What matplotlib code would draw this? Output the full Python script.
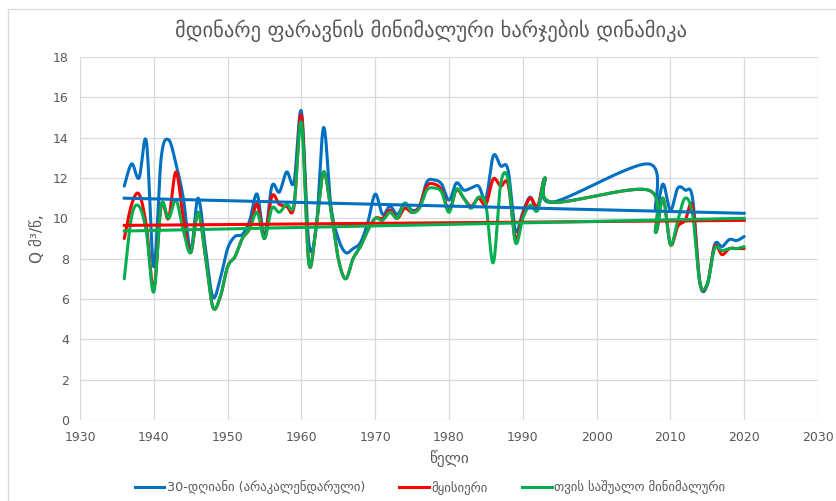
import numpy as np
import matplotlib
matplotlib.use("Agg")
import matplotlib.pyplot as plt
from matplotlib.lines import Line2D

plt.rcParams['font.family'] = ['DejaVu Sans']

# years with data (gap 1995-2006)
years = list(range(1936, 1995)) + list(range(2007, 2021))

# 30-day (non-calendar) minimum
q30 = [11.6, 12.7, 12.0, 13.8, 7.6, 13.0, 13.9, 12.7, 11.0, 8.4,
       11.0, 8.5, 6.1, 7.0, 8.5, 9.1, 9.2, 9.9, 11.2, 9.1,
       11.6, 11.3, 12.3, 11.8, 15.3, 8.8, 9.5, 14.5, 10.6, 9.0,
       8.3, 8.5, 8.8, 9.8, 11.2, 10.2, 10.6, 10.2, 10.75, 10.4,
       10.6, 11.8, 11.9, 11.7, 10.9, 11.75, 11.4, 11.5, 11.6, 11.0,
       13.1, 12.6, 12.4, 9.4, 10.3, 11.05, 10.4, 12.0, 10.8,
       12.7, 10.4, 11.7, 10.4, 11.5, 11.4, 11.0, 6.8, 6.7, 8.7,
       8.6, 8.95, 8.9, 9.1]

# instantaneous minimum
qinst = [9.0, 10.7, 11.2, 9.6, 6.5, 10.65, 10.0, 12.3, 10.0, 8.3,
         10.3, 8.1, 5.6, 6.1, 7.6, 8.1, 9.0, 9.5, 10.7, 9.0,
         11.1, 10.7, 10.6, 10.6, 15.1, 7.8, 9.6, 12.3, 10.4, 8.0,
         7.0, 8.0, 8.6, 9.4, 10.0, 10.0, 10.4, 10.0, 10.5, 10.3,
         10.6, 11.6, 11.7, 11.4, 10.4, 11.4, 11.0, 10.6, 11.0, 10.7,
         11.95, 11.6, 11.7, 9.0, 10.2, 11.0, 10.6, 12.0, 10.8,
         11.4, 9.3, 11.0, 8.7, 9.6, 9.9, 10.6, 6.8, 6.75, 8.6,
         8.2, 8.5, 8.5, 8.5]

# monthly mean minimum
qmonth = [7.0, 10.1, 10.6, 9.3, 6.35, 10.65, 10.0, 10.9, 9.4, 8.3,
          10.3, 8.1, 5.6, 6.1, 7.6, 8.1, 9.0, 9.5, 10.3, 9.0,
          10.5, 10.3, 10.7, 10.7, 14.75, 7.8, 9.6, 12.3, 10.4, 8.0,
          7.0, 8.0, 8.6, 9.4, 10.0, 9.9, 10.3, 10.0, 10.75, 10.3,
          10.5, 11.4, 11.5, 11.3, 10.3, 11.45, 11.0, 10.5, 11.05, 10.65,
          7.8, 11.7, 11.95, 8.8, 10.0, 10.65, 10.4, 12.0, 10.8,
          11.4, 9.3, 11.0, 8.7, 9.9, 11.0, 10.2, 6.8, 6.75, 8.5,
          8.4, 8.5, 8.5, 8.6]

# linear trends (values at 1936 and 2020)
trend_years = [1936, 2020]
trend_q30 = [11.0, 10.25]
trend_qinst = [9.65, 9.9]
trend_qmonth = [9.37, 10.0]

labels = ["30-დღიანი (არაკალენდარული)", "მყისიერი", "თვის საშუალო მინიმალური"]
colors = ["#0070C0", "#FF0000", "#00B050"]
gray = "#595959"


def smooth(x, y, n=30):
    # excel-like smoothed line: bezier through points, control = (p2-p0)/6
    pts = np.column_stack([x, y]).astype(float)
    out = [pts[0]]
    t = np.linspace(0, 1, n)[1:, None]
    for i in range(len(pts) - 1):
        p0 = pts[max(i - 1, 0)]
        p1 = pts[i]
        p2 = pts[i + 1]
        p3 = pts[min(i + 2, len(pts) - 1)]
        c1 = p1 + (p2 - p0) / 6
        c2 = p2 - (p3 - p1) / 6
        seg = (1 - t) ** 3 * p1 + 3 * (1 - t) ** 2 * t * c1 + 3 * (1 - t) * t ** 2 * c2 + t ** 3 * p2
        out.extend(seg)
    out = np.array(out)
    return out[:, 0], out[:, 1]


fig = plt.figure(figsize=(8.37, 5.01), dpi=100)
ax = fig.add_axes([80 / 837, 1 - 420 / 501, 738 / 837, 363 / 501])

lw = 2.2
for series, c in zip([q30, qinst, qmonth], colors):
    sx, sy = smooth(years, series)
    ax.plot(sx, sy, color=c, lw=lw, solid_capstyle='round', zorder=3)

for tr, c in zip([trend_q30, trend_qinst, trend_qmonth], colors):
    ax.plot(trend_years, tr, color=c, lw=lw, zorder=4)

ax.set_xlim(1930, 2030)
ax.set_ylim(0, 18)
ax.set_xticks(range(1930, 2031, 10))
ax.set_yticks(range(0, 19, 2))
ax.grid(True, color="#D9D9D9", lw=0.9)
ax.set_axisbelow(True)
for s in ax.spines.values():
    s.set_visible(False)
ax.tick_params(length=0, labelsize=9, labelcolor=gray, pad=8)

ax.set_xlabel("წელი", fontsize=11, color=gray, labelpad=4)
ax.set_ylabel("Q მ³/წ,", fontsize=11, color=gray, labelpad=6)

fig.text(431 / 837, 1 - 31 / 501, "მდინარე ფარავნის მინიმალური ხარჯების დინამიკა",
         ha='center', va='center', fontsize=14.8, color=gray)

handles = [Line2D([], [], color=c, lw=lw) for c in colors]
fig.legend(handles, labels, loc='center', bbox_to_anchor=(430 / 837, 1 - 488 / 501),
           ncol=3, frameon=False, fontsize=9.2, labelcolor=gray,
           handlelength=2.3, handletextpad=0.2, columnspacing=2.7)

# chart area border (top and left edges visible)
fig.add_artist(Line2D([8 / 837, 1], [1 - 9 / 501, 1 - 9 / 501], color="#D9D9D9", lw=0.9))
fig.add_artist(Line2D([8 / 837, 8 / 837], [0, 1 - 9 / 501], color="#D9D9D9", lw=0.9))

fig.savefig("out.png", dpi=100)
